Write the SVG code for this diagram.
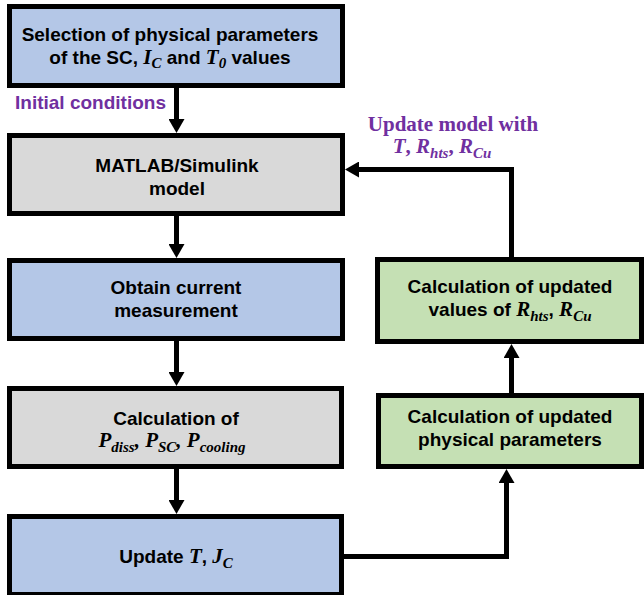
<svg xmlns="http://www.w3.org/2000/svg" width="644" height="595" viewBox="0 0 644 595">
<style>
.box{stroke:#000;stroke-width:5}
.blue{fill:#B4C7E7}
.gray{fill:#D9D9D9}
.green{fill:#C5E0B4}
.t{font-family:"Liberation Sans",Arial,sans-serif;font-weight:bold;font-size:19px;fill:#000;text-anchor:middle}
.m{font-family:"Liberation Serif","Times New Roman",serif;font-style:italic;font-weight:bold;font-size:21px}
.s{font-size:15px}
.lab{font-family:"Liberation Sans",Arial,sans-serif;font-weight:bold;font-size:19px;fill:#7030A0}
.lab2{font-family:"Liberation Serif","Times New Roman",serif;font-weight:bold;font-size:21px;fill:#7030A0;text-anchor:middle}
.c{fill:none;stroke:#000;stroke-width:5}
</style>
<defs>
<marker id="ah" viewBox="0 0 14 16" refX="2" refY="8" markerWidth="14" markerHeight="16" markerUnits="userSpaceOnUse" orient="auto">
<path d="M0,0 L14,8 L0,16 z" fill="#000"/>
</marker>
</defs>
<g id="connectors">
<path class="c" d="M176.5,88 V121" marker-end="url(#ah)"/>
<path class="c" d="M176.5,216 V246" marker-end="url(#ah)"/>
<path class="c" d="M176.5,341 V374" marker-end="url(#ah)"/>
<path class="c" d="M176.5,469 V502" marker-end="url(#ah)"/>
<path class="c" d="M344,556.5 H506.5 V481" marker-end="url(#ah)"/>
<path class="c" d="M511.5,393 V356" marker-end="url(#ah)"/>
<path class="c" d="M511.5,257 V169.5 H357" marker-end="url(#ah)"/>
</g>
<g id="n1">
<rect class="box blue" x="9.5" y="6.5" width="333" height="79"/>
<text class="t" x="170" y="41">Selection of physical parameters</text>
<text class="t" x="170" y="64">of the SC, <tspan class="m">I</tspan><tspan class="m s" dy="4">C</tspan><tspan dy="-4"> and </tspan><tspan class="m">T</tspan><tspan class="m s" dy="4">0</tspan><tspan dy="-4"> values</tspan></text>
</g>
<g id="label-initial">
<text class="lab" x="15" y="109">Initial conditions</text>
</g>
<g id="label-update">
<text class="lab2" x="453" y="131">Update model with</text>
<text class="lab2" x="442" y="153"><tspan class="m">T</tspan>, <tspan class="m">R</tspan><tspan class="m s" dy="5">hts</tspan><tspan dy="-5">, </tspan><tspan class="m">R</tspan><tspan class="m s" dy="5">Cu</tspan></text>
</g>
<g id="n2">
<rect class="box gray" x="9.5" y="135.5" width="333" height="78"/>
<text class="t" x="177" y="172">MATLAB/Simulink</text>
<text class="t" x="177" y="195">model</text>
</g>
<g id="n3">
<rect class="box blue" x="9.5" y="260.5" width="333" height="78"/>
<text class="t" x="176" y="294">Obtain current</text>
<text class="t" x="176" y="317">measurement</text>
</g>
<g id="n4">
<rect class="box gray" x="9.5" y="388.5" width="332" height="78"/>
<text class="t" x="176" y="425">Calculation of</text>
<text class="t" x="172" y="447"><tspan class="m">P</tspan><tspan class="m s" dy="5">diss</tspan><tspan class="m" dy="-5">, P</tspan><tspan class="m s" dy="5">SC</tspan><tspan class="m" dy="-5">, P</tspan><tspan class="m s" dy="5">cooling</tspan></text>
</g>
<g id="n5">
<rect class="box blue" x="9.5" y="516.5" width="332" height="78"/>
<text class="t" x="176" y="563">Update <tspan class="m">T</tspan>, <tspan class="m">J</tspan><tspan class="m s" dy="5">C</tspan></text>
</g>
<g id="nA">
<rect class="box green" x="377.5" y="259.5" width="264" height="82"/>
<text class="t" x="510" y="293">Calculation of updated</text>
<text class="t" x="510" y="316">values of <tspan class="m">R</tspan><tspan class="m s" dy="5">hts</tspan><tspan dy="-5">, </tspan><tspan class="m">R</tspan><tspan class="m s" dy="5">Cu</tspan></text>
</g>
<g id="nB">
<rect class="box green" x="378.5" y="395.5" width="263" height="71"/>
<text class="t" x="510" y="423">Calculation of updated</text>
<text class="t" x="510" y="446">physical parameters</text>
</g>
</svg>
